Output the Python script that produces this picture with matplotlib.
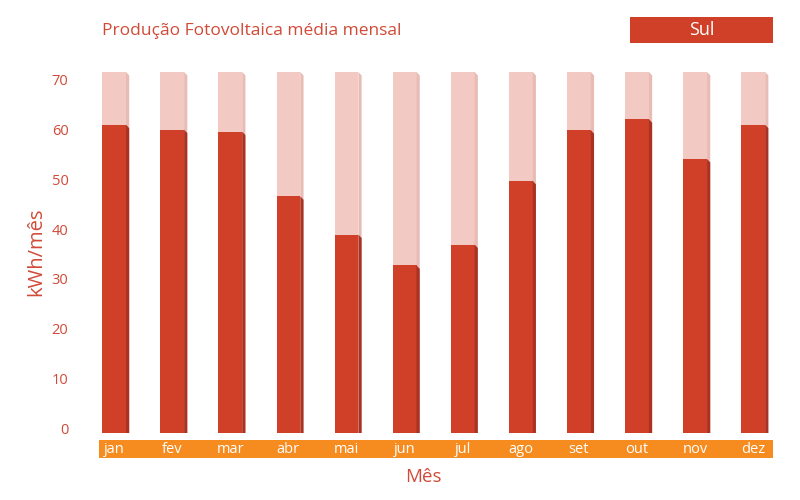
import numpy as np
import matplotlib.pyplot as plt
from matplotlib.patches import Polygon, FancyBboxPatch

plt.rcParams['font.family'] = ['Open Sans', 'DejaVu Sans']

meses = ["jan", "fev", "mar", "abr", "mai", "jun", "jul", "ago", "set", "out", "nov", "dez"]
producao = [61.0, 60.0, 59.6, 46.6, 38.9, 32.7, 36.9, 49.7, 59.9, 62.1, 54.1, 61.0]
maximo = [71.6] * 12
legenda = "Sul"

cor_bar = "#D03F27"
cor_lado = "#A93222"
cor_fundo = "#F2CAC3"
cor_fundo_lado = "#E8BBB4"
cor_texto = "#D04A37"
cor_faixa = "#F68B1F"

fig = plt.figure(figsize=(8, 5), dpi=100)
ax = fig.add_axes([99 / 800, 67 / 500, 674 / 800, 363 / 500])

x = np.arange(len(meses))
w = 0.41
s = 0.055
base = -1

def barra(xc, h, cor, cor_s):
    ax.bar(xc, h - base, width=w, bottom=base, color=cor, linewidth=0, zorder=2)
    x0 = xc + w / 2
    ax.add_patch(Polygon([[x0, base], [x0 + s, base], [x0 + s, h - 0.7], [x0, h]],
                         closed=True, facecolor=cor_s, edgecolor="none", zorder=2))

for i in range(len(meses)):
    barra(x[i], maximo[i], cor_fundo, cor_fundo_lado)
    barra(x[i], producao[i], cor_bar, cor_lado)

ax.set_xlim(-0.26, 11.34)
ax.set_ylim(-1, 72)
ax.set_yticks(range(0, 71, 10))
ax.set_xticks([])
for sp in ax.spines.values():
    sp.set_visible(False)
ax.tick_params(axis="y", length=0, pad=22, labelcolor=cor_texto, labelsize=10.5)
ax.set_ylabel("kWh/mês", color=cor_texto, fontsize=14.5, labelpad=4)

# faixa laranja com os meses
fx = fig.add_axes([99 / 800, 42 / 500, 674 / 800, 18 / 500])
fx.set_facecolor(cor_faixa)
fx.set_xlim(ax.get_xlim())
fx.set_ylim(0, 1)
fx.set_xticks([])
fx.set_yticks([])
for sp in fx.spines.values():
    sp.set_visible(False)
for i, m in enumerate(meses):
    fx.text(x[i], 0.45, m, color="white", ha="center", va="center", fontsize=10.5)

fig.text(423 / 800, 1 - 477 / 500, "Mês", color=cor_texto, fontsize=13.5, ha="center", va="center")
fig.text(102 / 800, 1 - 31 / 500, "Produção Fotovoltaica média mensal", color=cor_texto,
         fontsize=12.5, ha="left", va="center")

# caixa da legenda
fig.patches.append(FancyBboxPatch((630 / 800, 1 - 43 / 500), 143 / 800, 26 / 500,
                                  boxstyle="square,pad=0", transform=fig.transFigure,
                                  facecolor=cor_bar, edgecolor="none"))
fig.text(702 / 800, 1 - 30 / 500, legenda, color="white", fontsize=13, ha="center", va="center")

fig.savefig("out.png", dpi=100)
